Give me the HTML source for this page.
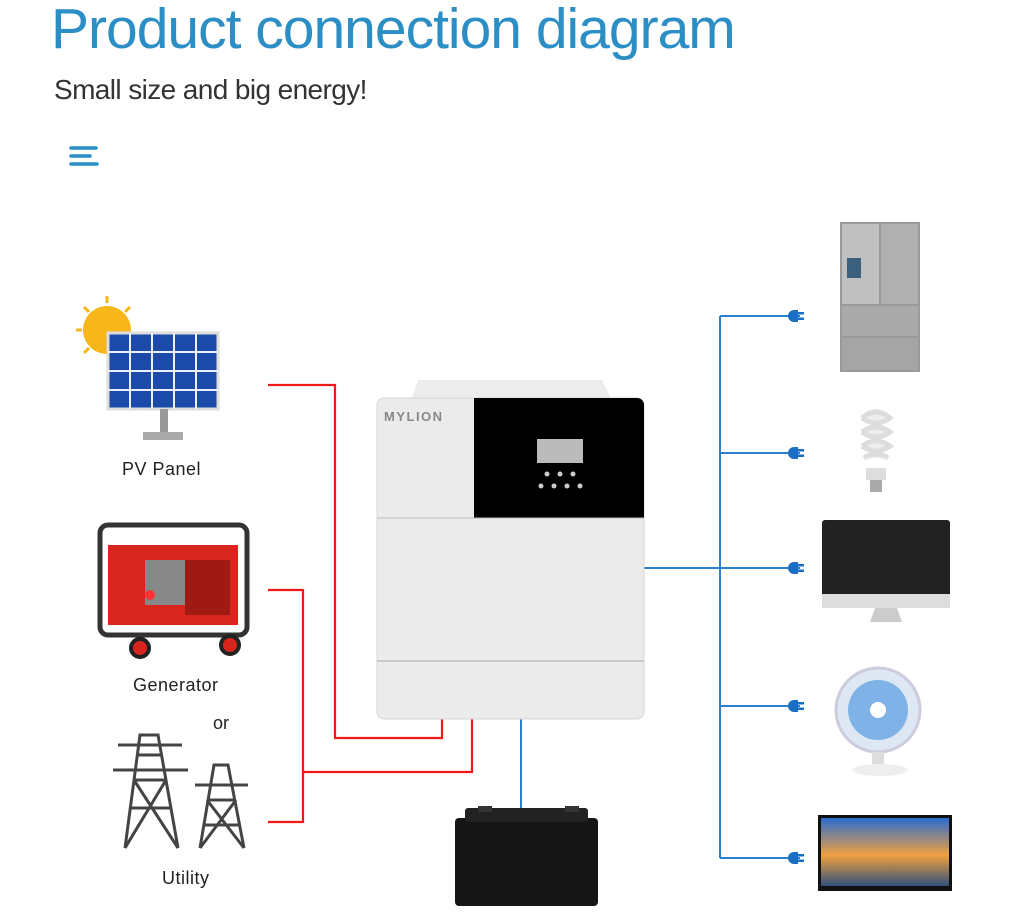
<!DOCTYPE html>
<html><head><meta charset="utf-8"><style>
body{margin:0;width:1024px;height:919px;background:#fff;overflow:hidden;position:relative;font-family:"Liberation Sans",sans-serif}
.t{position:absolute;white-space:nowrap}
</style></head><body>
<div class="t" style="left:51px;top:-4px;font-size:57px;color:#2b8ec4;letter-spacing:-1px">Product connection diagram</div>
<div class="t" style="left:54px;top:74px;font-size:28px;color:#333;letter-spacing:-0.6px">Small size and big energy!</div>
<svg width="1024" height="919" style="position:absolute;left:0;top:0">
<g stroke="#2b8ec4" stroke-width="3.5" stroke-linecap="round"><line x1="71" y1="148" x2="96" y2="148"/><line x1="71" y1="156" x2="90" y2="156"/><line x1="71" y1="164" x2="97" y2="164"/></g>
<g fill="none" stroke="#f01818" stroke-width="2.2">
<polyline points="268,385 335,385 335,738 442,738 442,718"/>
<polyline points="268,590 303,590 303,822 268,822"/>
<polyline points="303,772 472,772 472,718"/>
</g>
<g fill="none" stroke="#2a7fcf" stroke-width="2">
<line x1="521" y1="718" x2="521" y2="810"/>
<line x1="643" y1="568" x2="720" y2="568"/>
<line x1="720" y1="316" x2="720" y2="858"/>
<line x1="720" y1="316" x2="800" y2="316"/><line x1="720" y1="453" x2="800" y2="453"/><line x1="720" y1="568" x2="800" y2="568"/><line x1="720" y1="706" x2="800" y2="706"/><line x1="720" y1="858" x2="800" y2="858"/>
</g>
<g fill="#1a6fc4">
<g transform="translate(800,316)"><path d="M-6,-6 a6,6 0 0 0 0,12 h4 v-12z"/><rect x="-3" y="-4" width="7" height="2.5"/><rect x="-3" y="1.5" width="7" height="2.5"/></g>
<g transform="translate(800,453)"><path d="M-6,-6 a6,6 0 0 0 0,12 h4 v-12z"/><rect x="-3" y="-4" width="7" height="2.5"/><rect x="-3" y="1.5" width="7" height="2.5"/></g>
<g transform="translate(800,568)"><path d="M-6,-6 a6,6 0 0 0 0,12 h4 v-12z"/><rect x="-3" y="-4" width="7" height="2.5"/><rect x="-3" y="1.5" width="7" height="2.5"/></g>
<g transform="translate(800,706)"><path d="M-6,-6 a6,6 0 0 0 0,12 h4 v-12z"/><rect x="-3" y="-4" width="7" height="2.5"/><rect x="-3" y="1.5" width="7" height="2.5"/></g>
<g transform="translate(800,858)"><path d="M-6,-6 a6,6 0 0 0 0,12 h4 v-12z"/><rect x="-3" y="-4" width="7" height="2.5"/><rect x="-3" y="1.5" width="7" height="2.5"/></g>
</g>
<path d="M412,398 L418,380 L602,380 L611,398Z" fill="#ececec"/>
<rect x="377" y="398" width="267" height="321" rx="7" fill="#ebebeb" stroke="#d6d6d6"/>
<path d="M474,398 H637 a7,7 0 0 1 7,7 V518 H474Z" fill="#000"/>
<line x1="377" y1="518" x2="644" y2="518" stroke="#bbb"/>
<line x1="377" y1="661" x2="644" y2="661" stroke="#aaa"/>
<rect x="537" y="439" width="46" height="24" fill="#bbb"/>
<g fill="#ccc"><circle cx="547" cy="474" r="2.5"/><circle cx="560" cy="474" r="2.5"/><circle cx="573" cy="474" r="2.5"/><circle cx="541" cy="486" r="2.5"/><circle cx="554" cy="486" r="2.5"/><circle cx="567" cy="486" r="2.5"/><circle cx="580" cy="486" r="2.5"/></g>
<text x="384" y="421" font-size="13" fill="#888" letter-spacing="1.5" font-weight="bold">MYLION</text>
<rect x="455" y="818" width="143" height="88" rx="4" fill="#151515"/>
<rect x="465" y="808" width="123" height="14" rx="3" fill="#222"/>
<rect x="478" y="806" width="14" height="6" fill="#333"/><rect x="565" y="806" width="14" height="6" fill="#333"/>
<circle cx="107" cy="330" r="24" fill="#f7b71a"/>
<g stroke="#f7b71a" stroke-width="3"><line x1="107" y1="296" x2="107" y2="303"/><line x1="76" y1="330" x2="82" y2="330"/><line x1="84" y1="307" x2="89" y2="312"/><line x1="130" y1="307" x2="125" y2="312"/><line x1="84" y1="353" x2="89" y2="348"/></g>
<rect x="108" y="333" width="110" height="76" fill="#1c4aa8" stroke="#ddd" stroke-width="3"/>
<g stroke="#eef" stroke-width="2"><line x1="130" y1="333" x2="130" y2="409"/><line x1="152" y1="333" x2="152" y2="409"/><line x1="174" y1="333" x2="174" y2="409"/><line x1="196" y1="333" x2="196" y2="409"/><line x1="108" y1="352" x2="218" y2="352"/><line x1="108" y1="371" x2="218" y2="371"/><line x1="108" y1="390" x2="218" y2="390"/></g>
<rect x="160" y="409" width="8" height="25" fill="#999"/><rect x="143" y="432" width="40" height="8" fill="#aaa"/>
<rect x="100" y="525" width="147" height="110" rx="8" fill="none" stroke="#333" stroke-width="5"/>
<rect x="108" y="545" width="130" height="80" fill="#d8251d"/>
<rect x="145" y="560" width="40" height="45" fill="#888"/>
<circle cx="150" cy="595" r="5" fill="#f33"/>
<rect x="185" y="560" width="45" height="55" fill="#a01a14"/>
<circle cx="140" cy="648" r="9" fill="#d8251d" stroke="#222" stroke-width="4"/><circle cx="230" cy="645" r="9" fill="#d8251d" stroke="#222" stroke-width="4"/>
<g fill="none" stroke="#444" stroke-width="3">
<path d="M125,848 L140,735 L158,735 L178,848 M130,808 L172,808 M134,780 L166,780 M137,755 L162,755 M125,848 L166,780 M178,848 L134,780 M113,770 L188,770 M118,745 L182,745"/>
<path d="M200,848 L214,765 L228,765 L244,848 M203,825 L241,825 M207,800 L236,800 M200,848 L236,800 M244,848 L207,800 M195,785 L248,785"/>
</g>
<rect x="840" y="222" width="80" height="150" fill="#9a9a9a"/>
<rect x="842" y="224" width="37" height="80" fill="#c0c0c0"/><rect x="881" y="224" width="37" height="80" fill="#b0b0b0"/>
<rect x="842" y="306" width="76" height="30" fill="#aaa"/><rect x="842" y="338" width="76" height="32" fill="#a5a5a5"/>
<rect x="847" y="258" width="14" height="20" fill="#3a6080"/>
<path d="M862,418 q14,-12 28,0 q-14,10 -28,0 M862,432 q14,-10 28,0 q-14,10 -28,0 M862,446 q14,-10 28,0 q-14,10 -28,0 M864,458 q12,-8 24,0" fill="#eee" stroke="#ddd" stroke-width="5"/>
<rect x="866" y="468" width="20" height="12" fill="#ddd"/><rect x="870" y="480" width="12" height="12" fill="#aaa"/>
<rect x="822" y="520" width="128" height="88" rx="3" fill="#222"/>
<rect x="822" y="594" width="128" height="14" fill="#ddd"/>
<path d="M875,608 L897,608 L902,622 L870,622Z" fill="#ccc"/>
<circle cx="878" cy="710" r="42" fill="#dde8f4" stroke="#ccd" stroke-width="3"/>
<circle cx="878" cy="710" r="30" fill="#7fb2e6"/>
<circle cx="878" cy="710" r="8" fill="#fff"/>
<rect x="872" y="752" width="12" height="14" fill="#ddd"/><ellipse cx="880" cy="770" rx="28" ry="6" fill="#eee"/>
<rect x="818" y="815" width="134" height="76" fill="#111"/>
<defs><linearGradient id="g" x1="0" y1="0" x2="0" y2="1"><stop offset="0" stop-color="#2a6dd0"/><stop offset=".55" stop-color="#f0a040"/><stop offset="1" stop-color="#30507a"/></linearGradient></defs>
<rect x="821" y="818" width="128" height="68" fill="url(#g)"/>
</svg>
<div class="t" style="left:122px;top:459px;font-size:18px;color:#222;letter-spacing:.5px">PV Panel</div>
<div class="t" style="left:133px;top:675px;font-size:18px;color:#222;letter-spacing:.5px">Generator</div>
<div class="t" style="left:213px;top:713px;font-size:18px;color:#222">or</div>
<div class="t" style="left:162px;top:868px;font-size:18px;color:#222;letter-spacing:.5px">Utility</div>
</body></html>
